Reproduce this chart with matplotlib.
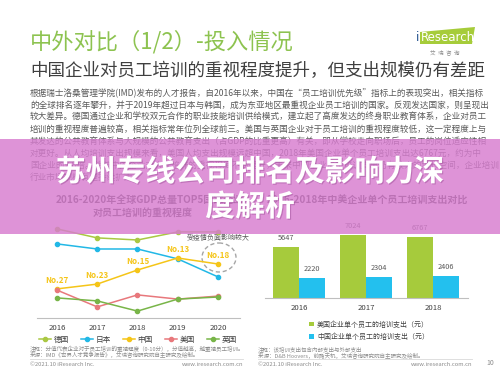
import matplotlib
matplotlib.use("Agg")
import matplotlib.pyplot as plt
import matplotlib.patheffects as pe
from matplotlib.patches import Rectangle, Ellipse, Polygon

plt.rcParams['font.family'] = ['Noto Sans CJK SC', 'DejaVu Sans']

# ---- data ----
years_line = ['2016', '2017', '2018', '2019', '2020']
germany = [7.97, 7.67, 7.60, 7.87, 7.87]
japan = [7.47, 7.30, 7.30, 6.97, 6.37]
china = [5.97, 6.13, 6.60, 7.00, 6.80]
usa = [5.93, 5.37, 5.77, 5.63, 5.73]
uk = [5.67, 5.57, 5.23, 5.63, 5.70]
china_rank = ['No.27', 'No.23', 'No.15', 'No.13', 'No.18']
line_names = ['德国', '日本', '中国', '美国', '英国']

years_bar = ['2016', '2017', '2018']
us_spend = [5647, 7024, 6767]
cn_spend = [2220, 2304, 2406]
bar_names = ['美国企业单个员工的培训支出（元）', '中国企业单个员工的培训支出（元）']

paragraph = [
    '根据瑞士洛桑管理学院(IMD)发布的人才报告，自2016年以来，中国在“员工培训优先级”指标上的表现突出，相关指标',
    '的全球排名逐年攀升，并于2019年超过日本与韩国，成为东亚地区最重视企业员工培训的国家。反观发达国家，则呈现出',
    '较大差异。德国通过企业和学校双元合作的职业技能培训供给模式，建立起了高度发达的终身职业教育体系，企业对员工',
    '培训的重视程度普遍较高，相关指标常年位列全球前三。美国与英国企业对于员工培训的重视程度较低，这一定程度上与',
    '其发达的公共教育体系与大规模的公共教育支出（占GDP的比重更高）有关，即从学校走向职场后，员工的岗位适应性相',
    '对更好。从人均培训支出规模来看，美国人均支出规模远超中国，2018年美国企业单个员工培训支出达6767元，约为中',
    '国企业的2.8倍。随着中国企业对人才培养的重视程度不断提升，未来中国企业员工培训支出仍有较大的增长空间，企业培训',
    '行业市场规模有望持续扩大。',
]

GRAY = '#595959'
LIGHT = '#8c8c8c'

fig = plt.figure(figsize=(5, 3.75), dpi=100)
fig.patch.set_facecolor('white')

bg = fig.add_axes([0, 0, 1, 1])
bg.set_xlim(0, 500)
bg.set_ylim(375, 0)
bg.axis('off')


def px_axes(x0, y0, x1, y1):
    return fig.add_axes([x0 / 500, 1 - y1 / 375, (x1 - x0) / 500, (y1 - y0) / 375])


# header
bg.text(30, 42, '中外对比（1/2）-投入情况', color='#8dc350', fontsize=16, va='center')
bg.text(30, 71, '中国企业对员工培训的重视程度提升，但支出规模仍有差距', color='#3f3f3f',
        fontsize=12.6, va='center')
bg.add_patch(Polygon([(420, 32), (475, 27), (472, 44), (420, 44)], closed=True,
                     facecolor='#a6cc3a', edgecolor='none'))
bg.text(416, 37.5, 'i', color='#1f4e8c', fontsize=8.5, va='center', family='DejaVu Sans')
bg.text(421, 37.5, 'Research', color='white', fontsize=8.5, va='center', family='DejaVu Sans')
bg.text(445, 52, '艾  瑞  咨  询', color=LIGHT, fontsize=4, va='center', ha='center')

for i, line in enumerate(paragraph):
    bg.text(30, 93 + 12 * i, line, color=GRAY, fontsize=6.2, va='center')

# chart titles
bg.text(150, 200, '2016-2020年全球GDP总量TOP5国家企业', color='#404040', fontsize=7.2,
        fontweight='bold', ha='center', va='center')
bg.text(143, 213, '对员工培训的重视程度', color='#404040', fontsize=7.2,
        fontweight='bold', ha='center', va='center')
bg.text(367, 201, '2016-2018年中美企业单个员工培训支出对比', color='#404040', fontsize=7.2,
        fontweight='bold', ha='center', va='center')

# ---- left line chart ----
ax = px_axes(37, 218, 240, 318)
ax.patch.set_alpha(0)
x = range(len(years_line))
series = [germany, japan, china, usa, uk]
colors = ['#aac843', '#22b8e6', '#f5c518', '#e8787c', '#78b548']
for vals, c, name in zip(series, colors, line_names):
    ax.plot(x, vals, color=c, lw=1.1, marker='o', markersize=3, label=name)
for i, r in enumerate(china_rank):
    ax.annotate(r, (i, china[i]), xytext=(0, 6), textcoords='offset points',
                ha='center', va='center', color='#f5c518', fontsize=5.8, fontweight='bold')
ax.set_xlim(-0.497, 4.547)
ax.set_ylim(5, 8.333)
ax.set_xticks(list(x))
ax.set_xticklabels(years_line)
ax.set_yticks([])
for s in ['top', 'right', 'left']:
    ax.spines[s].set_visible(False)
ax.spines['bottom'].set_color('#bfbfbf')
ax.tick_params(axis='x', length=0, pad=4, labelsize=5.6, labelcolor='#404040')
ax.legend(loc='center', bbox_to_anchor=(138 / 500, 1 - 340 / 375), bbox_transform=fig.transFigure,
          ncol=5, frameon=False, fontsize=5.5, handlelength=1.6, handletextpad=0.3,
          columnspacing=1.6, labelcolor='#404040')

bg.add_patch(Ellipse((219, 257.5), 34, 29, fill=False, edgecolor='#a6a6a6', lw=1, ls=(0, (3, 2))))
bg.text(218.5, 238, '受疫情负面影响较大', color=GRAY, fontsize=5, ha='center', va='center')

# ---- right bar chart ----
bx = px_axes(265, 218, 468, 298)
bx.patch.set_alpha(0)
xb = list(range(len(years_bar)))
w = 0.388
b1 = bx.bar([v - w / 2 for v in xb], us_spend, width=w, color='#a6cb3c', label=bar_names[0])
b2 = bx.bar([v + w / 2 for v in xb], cn_spend, width=w, color='#23c0ee', label=bar_names[1])
for bars in (b1, b2):
    for r in bars:
        bx.annotate(f'{int(r.get_height())}', (r.get_x() + r.get_width() / 2, r.get_height()),
                    xytext=(0, 6.5), textcoords='offset points', ha='center', va='center',
                    fontsize=5.3, color=GRAY)
bx.set_xlim(-0.507, 2.52)
bx.set_ylim(0, 8858)
bx.set_xticks(xb)
bx.set_xticklabels(years_bar)
bx.set_yticks([])
for s in ['top', 'right', 'left']:
    bx.spines[s].set_visible(False)
bx.spines['bottom'].set_color('#bfbfbf')
bx.tick_params(axis='x', length=0, pad=4, labelsize=5.6, labelcolor='#404040')
bx.legend(loc='upper left', bbox_to_anchor=(306 / 500, 1 - 317 / 375), bbox_transform=fig.transFigure,
          frameon=False, fontsize=5, handlelength=0.7, handleheight=0.7, handletextpad=0.4,
          labelspacing=0.6, labelcolor='#404040', borderpad=0)

# ---- footers ----
bg.text(30, 349, '注释：分值代表企业对于员工培训的重视程度（0-10分），分值越高，越重视员工培训。',
        color=LIGHT, fontsize=4, va='center')
bg.text(30, 355, '来源：IMD《世界人才竞争报告》，艾瑞咨询研究院自主研究及绘制。',
        color=LIGHT, fontsize=4, va='center')
bg.text(258, 349, '注释：该培训支出包含内部支出与外部支出', color=LIGHT, fontsize=4, va='center')
bg.text(258, 355, '来源：D&B Hoovers，前瞻天机，艾瑞咨询研究院自主研究及绘制。',
        color=LIGHT, fontsize=4, va='center')
bg.plot([30, 243], [359, 359], color='#d9d9d9', lw=0.6)
bg.plot([258, 472], [359, 359], color='#d9d9d9', lw=0.6)
for x0, x1 in [(30, 243), (258, 472)]:
    bg.text(x0, 364, '©2021.10 iResearch Inc.', color=LIGHT, fontsize=4.2, va='center')
    bg.text(x1, 364, 'www.iresearch.com.cn', color=LIGHT, fontsize=4.2, va='center', ha='right')
bg.text(490, 363, '10', color=LIGHT, fontsize=5, va='center', ha='center')

# ---- pink banner overlay ----
fig.add_artist(Rectangle((0, 1 - 234 / 375), 1, 95 / 375, transform=fig.transFigure,
                         facecolor='#d77ccf', alpha=0.82, edgecolor='none', zorder=5))
shadow = [pe.withSimplePatchShadow(offset=(0.8, -0.8), shadow_rgbFace='#a0509a', alpha=0.5)]
for txt, yy in [('苏州专线公司排名及影响力深', 172), ('度解析', 207)]:
    fig.text(0.5, 1 - yy / 375, txt, color='white', fontsize=21.5, fontweight='bold',
             ha='center', va='center', zorder=6, path_effects=shadow)

fig.savefig('out.png', dpi=100)
